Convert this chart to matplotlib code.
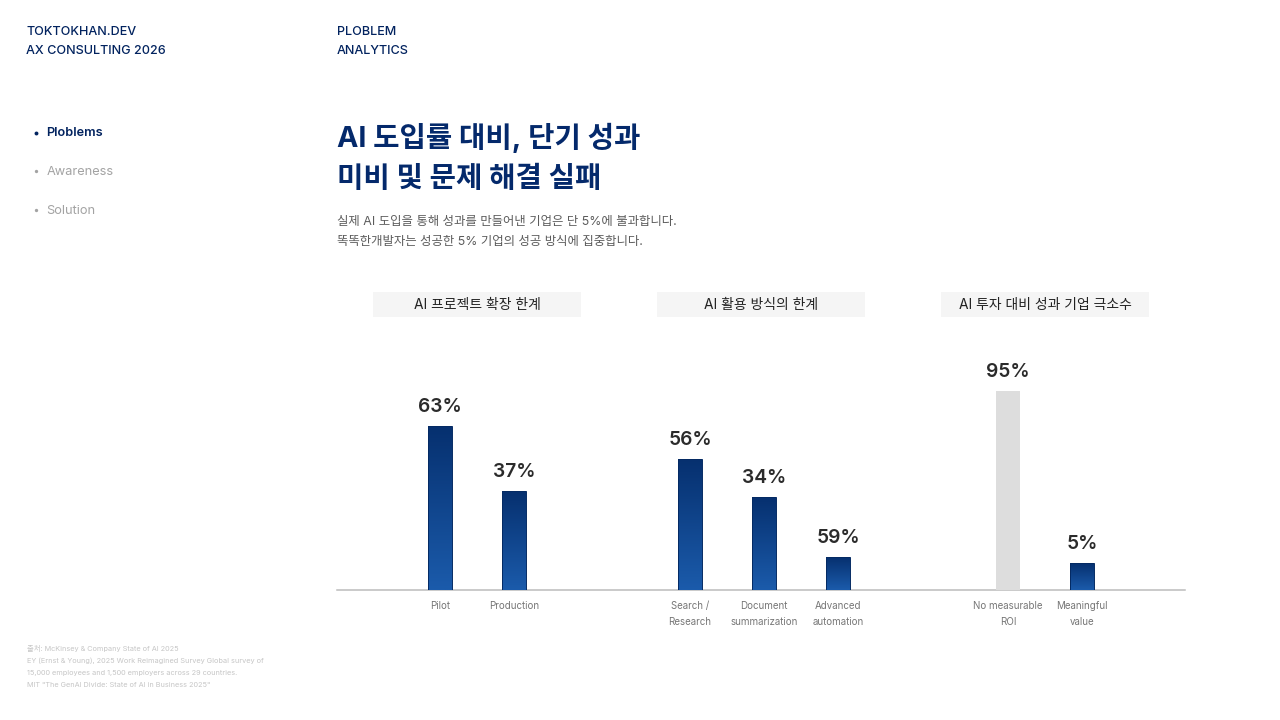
import matplotlib
matplotlib.use("Agg")
import matplotlib.pyplot as plt
from matplotlib.patches import Rectangle
import numpy as np

plt.rcParams['font.family'] = ['Inter', 'Noto Sans CJK KR', 'DejaVu Sans']

# data
group_titles = ["AI 프로젝트 확장 한계", "AI 활용 방식의 한계", "AI 투자 대비 성과 기업 극소수"]
group_labels = [
    ["Pilot", "Production"],
    ["Search /\nResearch", "Document\nsummarization", "Advanced\nautomation"],
    ["No measurable\nROI", "Meaningful\nvalue"],
]
# the printed percent and the drawn bar height do not agree in the source,
# so both are kept (heights are read off the picture)
group_texts = [["63%", "37%"], ["56%", "34%", "59%"], ["95%", "5%"]]
group_heights = [[164, 99], [131, 93, 33], [199, 27]]
muted_bars = ["No measurable\nROI"]

header_left = ["TOKTOKHAN.DEV", "AX CONSULTING 2026"]
header_right = ["PLOBLEM", "ANALYTICS"]
menu_items = ["Ploblems", "Awareness", "Solution"]
title_lines = ["AI 도입률 대비, 단기 성과", "미비 및 문제 해결 실패"]
sub_lines = ["실제 AI 도입을 통해 성과를 만들어낸 기업은 단 5%에 불과합니다.",
             "똑똑한개발자는 성공한 5% 기업의 성공 방식에 집중합니다."]
source_lines = ["출처: McKinsey & Company State of AI 2025",
                "EY (Ernst & Young), 2025 Work Reimagined Survey Global survey of",
                "15,000 employees and 1,500 employers across 29 countries.",
                "MIT \"The GenAI Divide: State of AI in Business 2025\""]

NAVY = "#02235f"
TITLE = "#04296b"

fig = plt.figure(figsize=(12.8, 7.2), dpi=100, facecolor="white")

# page layer in pixel coordinates
page = fig.add_axes([0, 0, 1, 1])
page.set_xlim(0, 1280)
page.set_ylim(720, 0)
page.axis("off")

for i, s in enumerate(header_left):
    page.text(26.5, 32 + i * 19, s, fontsize=9.07, color=NAVY, va="center", fontweight="medium")
for i, s in enumerate(header_right):
    page.text(337, 32 + i * 19, s, fontsize=9.07, color=NAVY, va="center", fontweight="medium")

for i, s in enumerate(menu_items):
    y = 133.5 + i * 38.7
    c = NAVY if i == 0 else "#a3a3a3"
    page.text(46.5, y, s, fontsize=9.2, color=c, va="center", fontweight="semibold" if i == 0 else "normal")
    page.plot([36], [y - 1], "o", ms=2.8 if i == 0 else 2.4, color=c, mew=0)

for i, s in enumerate(title_lines):
    page.text(337, 138 + i * 41, s, fontsize=20.65, color=TITLE, va="center", fontweight="bold")
for i, s in enumerate(sub_lines):
    page.text(337, 221.5 + i * 20.5, s, fontsize=8.95, color="#5c5c5c", va="center")
for i, s in enumerate(source_lines):
    page.text(27, 649 + i * 12, s, fontsize=5.28, color="#c6c6c6", va="center")

box_left = [373, 657, 941]
for x0, s in zip(box_left, group_titles):
    page.add_patch(Rectangle((x0, 292), 208, 25, fc="#f5f5f5", ec="none"))
    page.text(x0 + 104, 305, s, fontsize=9.96, color="#222222", ha="center", va="center")

# chart layer, one unit = one pixel
ax = fig.add_axes([337 / 1280, 130 / 720, 848 / 1280, 250 / 720])
ax.patch.set_alpha(0)
for side in ["top", "left", "right"]:
    ax.spines[side].set_visible(False)
ax.spines["bottom"].set_color("#bcbcbc")
ax.spines["bottom"].set_linewidth(1.1)
ax.spines["bottom"].set_zorder(1)
ax.set_yticks([])

group_start = [440, 690, 1008]
bar_gap = 74
gradient = matplotlib.colors.LinearSegmentedColormap.from_list("bar", ["#06306f", "#1b5bab"])
ramp = np.linspace(0, 1, 128).reshape(-1, 1)

tick_pos, tick_txt = [], []
for start, labels, texts, heights in zip(group_start, group_labels, group_texts, group_heights):
    for j, (lab, txt, h) in enumerate(zip(labels, texts, heights)):
        x = start + j * bar_gap
        tick_pos.append(x)
        tick_txt.append(lab)
        if lab in muted_bars:
            ax.bar(x, h, width=24, color="#dddddd", zorder=2)
        else:
            bar = ax.bar(x, h, width=24, color="none", edgecolor="#042a63", linewidth=0.7, zorder=4)[0]
            im = ax.imshow(ramp, cmap=gradient, aspect="auto", zorder=3,
                           extent=(x - 12, x + 12, 0, h))
            im.set_clip_path(bar)
        ax.annotate(txt, (x, h), xytext=(0, 7), textcoords="offset points", ha="center", va="bottom",
                    fontsize=13.8, color="#2b2b2b", fontweight="semibold")

ax.set_xlim(337, 1185)
ax.set_ylim(0, 250)
ax.set_xticks(tick_pos)
ax.set_xticklabels(tick_txt, fontsize=7.0, color="#767676", linespacing=1.7, va="top")
ax.tick_params(axis="x", length=0, pad=8)

fig.savefig("out.png", dpi=100)
